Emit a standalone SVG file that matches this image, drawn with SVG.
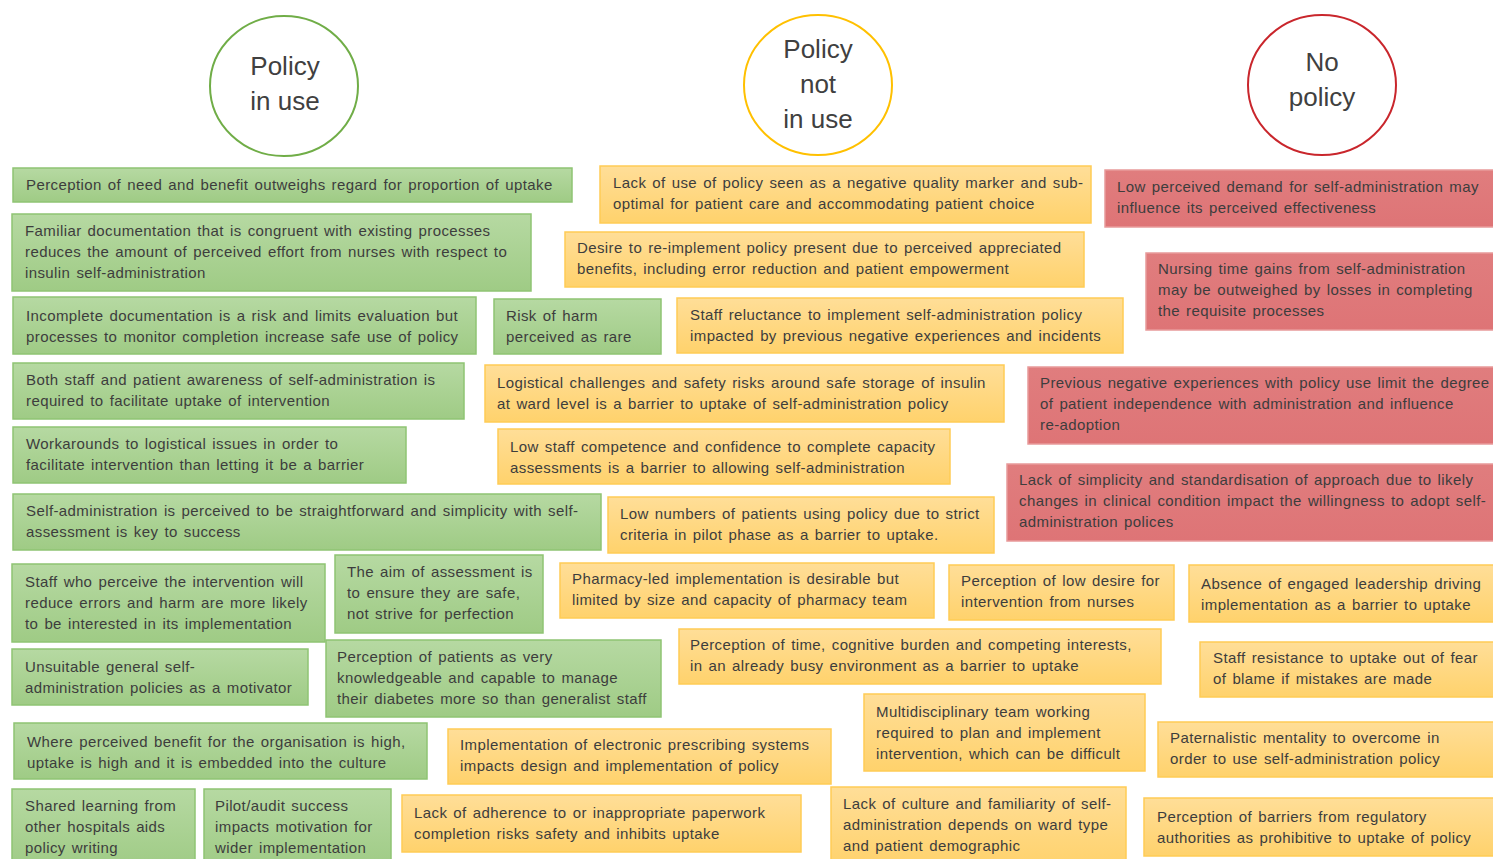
<svg xmlns="http://www.w3.org/2000/svg" width="1493" height="859" viewBox="0 0 1493 859">
<defs>
<linearGradient id="gg" x1="0" y1="0" x2="0" y2="1"><stop offset="0" stop-color="#b6d9a2"/><stop offset="1" stop-color="#9fcb85"/></linearGradient>
<linearGradient id="yg" x1="0" y1="0" x2="0" y2="1"><stop offset="0" stop-color="#ffde98"/><stop offset="1" stop-color="#ffd26c"/></linearGradient>
<linearGradient id="rg" x1="0" y1="0" x2="0" y2="1"><stop offset="0" stop-color="#e07d7e"/><stop offset="1" stop-color="#de7476"/></linearGradient>
<style>
.g{fill:url(#gg);stroke:#8fc473;stroke-width:1.5}
.y{fill:url(#yg);stroke:#ffcc55;stroke-width:1.5}
.r{fill:url(#rg);stroke:#e89a9b;stroke-width:1.5}
.t{font-family:"Liberation Sans",Arial,sans-serif;font-size:15px;letter-spacing:0.4px;word-spacing:1.5px;fill:#3d3d3d}
.c{font-family:"Liberation Sans",Arial,sans-serif;font-size:26px;fill:#404040;text-anchor:middle}
.cg{fill:#fff;stroke:#70ad47;stroke-width:2}
.cy{fill:#fff;stroke:#ffc000;stroke-width:2}
.cr{fill:#fff;stroke:#c9262c;stroke-width:2}
</style>
</defs>
<rect width="1493" height="859" fill="#fff"/>
<g id="connectors"/>
<g id="head-policy-in-use"><ellipse class="cg" cx="284" cy="86" rx="74" ry="70"/><text class="c" x="285" y="75">Policy</text><text class="c" x="285" y="110">in use</text></g>
<g id="head-policy-not-in-use"><ellipse class="cy" cx="818" cy="85" rx="74" ry="70"/><text class="c" x="818" y="58">Policy</text><text class="c" x="818" y="93">not</text><text class="c" x="818" y="128">in use</text></g>
<g id="head-no-policy"><ellipse class="cr" cx="1322" cy="85" rx="74" ry="70"/><text class="c" x="1322" y="71">No</text><text class="c" x="1322" y="106">policy</text></g>

<g id="g1"><rect class="g" x="13" y="168" width="559" height="34"/><text class="t" x="26" y="190">Perception of need and benefit outweighs regard for proportion of uptake</text></g>
<g id="g2"><rect class="g" x="12" y="214" width="519" height="77"/><text class="t" x="25" y="236">Familiar documentation that is congruent with existing processes</text><text class="t" x="25" y="257">reduces the amount of perceived effort from nurses with respect to</text><text class="t" x="25" y="278">insulin self-administration</text></g>
<g id="g3"><rect class="g" x="13" y="297" width="463" height="57"/><text class="t" x="26" y="321">Incomplete documentation is a risk and limits evaluation but</text><text class="t" x="26" y="342">processes to monitor completion increase safe use of policy</text></g>
<g id="g4"><rect class="g" x="494" y="299" width="167" height="55"/><text class="t" x="506" y="321">Risk of harm</text><text class="t" x="506" y="342">perceived as rare</text></g>
<g id="g5"><rect class="g" x="13" y="363" width="451" height="56"/><text class="t" x="26" y="385">Both staff and patient awareness of self-administration is</text><text class="t" x="26" y="406">required to facilitate uptake of intervention</text></g>
<g id="g6"><rect class="g" x="13" y="427" width="393" height="56"/><text class="t" x="26" y="449">Workarounds to logistical issues in order to</text><text class="t" x="26" y="470">facilitate intervention than letting it be a barrier</text></g>
<g id="g7"><rect class="g" x="13" y="494" width="588" height="56"/><text class="t" x="26" y="516">Self-administration is perceived to be straightforward and simplicity with self-</text><text class="t" x="26" y="537">assessment is key to success</text></g>
<g id="g8"><rect class="g" x="12" y="564" width="313" height="78"/><text class="t" x="25" y="587">Staff who perceive the intervention will</text><text class="t" x="25" y="608">reduce errors and harm are more likely</text><text class="t" x="25" y="629">to be interested in its implementation</text></g>
<g id="g9"><rect class="g" x="335" y="555" width="208" height="78"/><text class="t" x="347" y="577">The aim of assessment is</text><text class="t" x="347" y="598">to ensure they are safe,</text><text class="t" x="347" y="619">not strive for perfection</text></g>
<g id="g10"><rect class="g" x="12" y="649" width="296" height="56"/><text class="t" x="25" y="672">Unsuitable general self-</text><text class="t" x="25" y="693">administration policies as a motivator</text></g>
<g id="g11"><rect class="g" x="326" y="640" width="335" height="77"/><text class="t" x="337" y="662">Perception of patients as very</text><text class="t" x="337" y="683">knowledgeable and capable to manage</text><text class="t" x="337" y="704">their diabetes more so than generalist staff</text></g>
<g id="g12"><rect class="g" x="14" y="723" width="413" height="56"/><text class="t" x="27" y="747">Where perceived benefit for the organisation is high,</text><text class="t" x="27" y="768">uptake is high and it is embedded into the culture</text></g>
<g id="g13"><rect class="g" x="12" y="789" width="183" height="80"/><text class="t" x="25" y="811">Shared learning from</text><text class="t" x="25" y="832">other hospitals aids</text><text class="t" x="25" y="853">policy writing</text></g>
<g id="g14"><rect class="g" x="204" y="789" width="187" height="80"/><text class="t" x="215" y="811">Pilot/audit success</text><text class="t" x="215" y="832">impacts motivation for</text><text class="t" x="215" y="853">wider implementation</text></g>

<g id="y1"><rect class="y" x="600" y="166" width="491" height="57"/><text class="t" x="613" y="188">Lack of use of policy seen as a negative quality marker and sub-</text><text class="t" x="613" y="209">optimal for patient care and accommodating patient choice</text></g>
<g id="y2"><rect class="y" x="565" y="232" width="519" height="55"/><text class="t" x="577" y="253">Desire to re-implement policy present due to perceived appreciated</text><text class="t" x="577" y="274">benefits, including error reduction and patient empowerment</text></g>
<g id="y3"><rect class="y" x="677" y="298" width="446" height="55"/><text class="t" x="690" y="320">Staff reluctance to implement self-administration policy</text><text class="t" x="690" y="341">impacted by previous negative experiences and incidents</text></g>
<g id="y4"><rect class="y" x="485" y="365" width="519" height="57"/><text class="t" x="497" y="388">Logistical challenges and safety risks around safe storage of insulin</text><text class="t" x="497" y="409">at ward level is a barrier to uptake of self-administration policy</text></g>
<g id="y5"><rect class="y" x="498" y="429" width="452" height="55"/><text class="t" x="510" y="452">Low staff competence and confidence to complete capacity</text><text class="t" x="510" y="473">assessments is a barrier to allowing self-administration</text></g>
<g id="y6"><rect class="y" x="608" y="497" width="386" height="56"/><text class="t" x="620" y="519">Low numbers of patients using policy due to strict</text><text class="t" x="620" y="540">criteria in pilot phase as a barrier to uptake.</text></g>
<g id="y7"><rect class="y" x="560" y="563" width="374" height="55"/><text class="t" x="572" y="584">Pharmacy-led implementation is desirable but</text><text class="t" x="572" y="605">limited by size and capacity of pharmacy team</text></g>
<g id="y8"><rect class="y" x="949" y="565" width="225" height="55"/><text class="t" x="961" y="586">Perception of low desire for</text><text class="t" x="961" y="607">intervention from nurses</text></g>
<g id="y9"><rect class="y" x="679" y="629" width="482" height="55"/><text class="t" x="690" y="650">Perception of time, cognitive burden and competing interests,</text><text class="t" x="690" y="671">in an already busy environment as a barrier to uptake</text></g>
<g id="y10"><rect class="y" x="864" y="694" width="281" height="77"/><text class="t" x="876" y="717">Multidisciplinary team working</text><text class="t" x="876" y="738">required to plan and implement</text><text class="t" x="876" y="759">intervention, which can be difficult</text></g>
<g id="y11"><rect class="y" x="448" y="729" width="383" height="55"/><text class="t" x="460" y="750">Implementation of electronic prescribing systems</text><text class="t" x="460" y="771">impacts design and implementation of policy</text></g>
<g id="y12"><rect class="y" x="402" y="795" width="399" height="57"/><text class="t" x="414" y="818">Lack of adherence to or inappropriate paperwork</text><text class="t" x="414" y="839">completion risks safety and inhibits uptake</text></g>
<g id="y13"><rect class="y" x="831" y="787" width="295" height="80"/><text class="t" x="843" y="809">Lack of culture and familiarity of self-</text><text class="t" x="843" y="830">administration depends on ward type</text><text class="t" x="843" y="851">and patient demographic</text></g>
<g id="y14"><rect class="y" x="1189" y="565" width="310" height="57"/><text class="t" x="1201" y="589">Absence of engaged leadership driving</text><text class="t" x="1201" y="610">implementation as a barrier to uptake</text></g>
<g id="y15"><rect class="y" x="1200" y="642" width="300" height="55"/><text class="t" x="1213" y="663">Staff resistance to uptake out of fear</text><text class="t" x="1213" y="684">of blame if mistakes are made</text></g>
<g id="y16"><rect class="y" x="1158" y="722" width="340" height="55"/><text class="t" x="1170" y="743">Paternalistic mentality to overcome in</text><text class="t" x="1170" y="764">order to use self-administration policy</text></g>
<g id="y17"><rect class="y" x="1144" y="798" width="355" height="58"/><text class="t" x="1157" y="822">Perception of barriers from regulatory</text><text class="t" x="1157" y="843">authorities as prohibitive to uptake of policy</text></g>

<g id="r1"><rect class="r" x="1105" y="170" width="395" height="57"/><text class="t" x="1117" y="192">Low perceived demand for self-administration may</text><text class="t" x="1117" y="213">influence its perceived effectiveness</text></g>
<g id="r2"><rect class="r" x="1146" y="253" width="354" height="77"/><text class="t" x="1158" y="274">Nursing time gains from self-administration</text><text class="t" x="1158" y="295">may be outweighed by losses in completing</text><text class="t" x="1158" y="316">the requisite processes</text></g>
<g id="r3"><rect class="r" x="1028" y="367" width="472" height="77"/><text class="t" x="1040" y="388">Previous negative experiences with policy use limit the degree</text><text class="t" x="1040" y="409">of patient independence with administration and influence</text><text class="t" x="1040" y="430">re-adoption</text></g>
<g id="r4"><rect class="r" x="1007" y="464" width="493" height="77"/><text class="t" x="1019" y="485">Lack of simplicity and standardisation of approach due to likely</text><text class="t" x="1019" y="506">changes in clinical condition impact the willingness to adopt self-</text><text class="t" x="1019" y="527">administration polices</text></g>
</svg>
